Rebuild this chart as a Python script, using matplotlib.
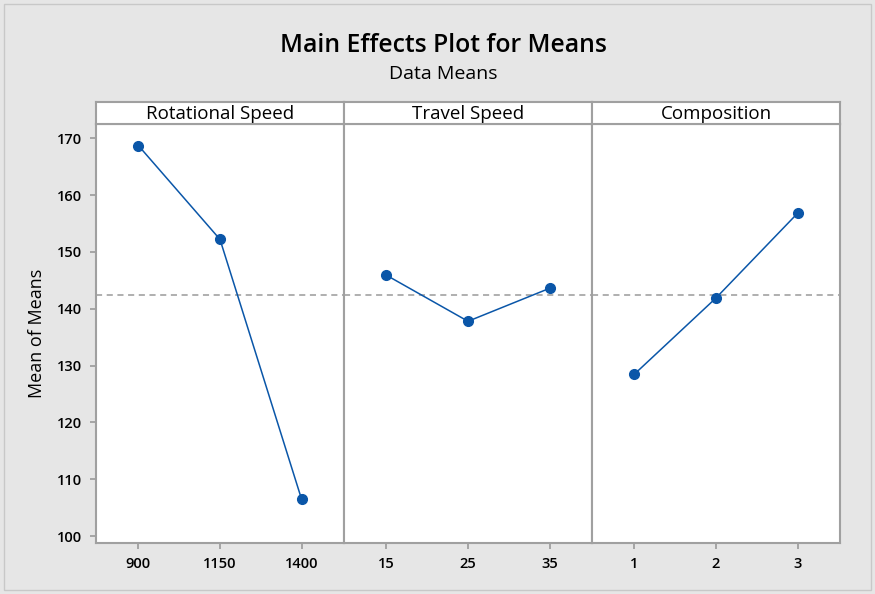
import matplotlib.pyplot as plt
from matplotlib.patches import Rectangle

# factors and level means
factors = ["Rotational Speed", "Travel Speed", "Composition"]
levels = [["900", "1150", "1400"], ["15", "25", "35"], ["1", "2", "3"]]
means = [[168.7, 152.2, 106.5], [145.9, 137.8, 143.6], [128.5, 141.9, 156.8]]
grand_mean = 142.45
yticks = [100, 110, 120, 130, 140, 150, 160, 170]

blue = "#0a56a8"
edge = "#a0a0a0"
bg = "#e6e6e6"

plt.rcParams["font.family"] = ["Open Sans", "DejaVu Sans"]

fig = plt.figure(figsize=(8.75, 5.94), dpi=100, facecolor=bg)
fig.patches.append(Rectangle((0.004, 0.006), 0.991, 0.988, transform=fig.transFigure,
                             fill=False, edgecolor="#c8c8c8", linewidth=1))

left, right = 96 / 875, 840 / 875
bottom, top, htop = 1 - 543 / 594, 1 - 124 / 594, 1 - 102 / 594
w = (right - left) / 3

for i, name in enumerate(factors):
    ax = fig.add_axes([left + i * w, bottom, w, top - bottom], facecolor="white")
    xs = [1, 2, 3]
    ax.axhline(grand_mean, color="#9a9a9a", linestyle=(0, (4, 3)), linewidth=1.1, zorder=1)
    ax.plot(xs, means[i], color=blue, linewidth=1.1, marker="o", markersize=7, zorder=3)
    ax.set_xlim(0.48, 3.52)
    ax.set_ylim(98.8, 172.5)
    ax.set_xticks(xs)
    ax.set_xticklabels(levels[i], fontsize=10.5, fontweight="semibold")
    ax.set_yticks(yticks)
    for s in ax.spines.values():
        s.set_color(edge)
        s.set_linewidth(1.5)
    ax.tick_params(axis="both", color=edge, length=4, width=1.3, pad=6)
    if i == 0:
        ax.set_yticklabels([str(t) for t in yticks], fontsize=10.5, fontweight="semibold")
        ax.set_ylabel("Mean of Means", fontsize=13, labelpad=8)
    else:
        ax.tick_params(axis="y", left=False, labelleft=False)

    # header strip
    hx = fig.add_axes([left + i * w, top, w, htop - top], facecolor="white")
    hx.set_xticks([])
    hx.set_yticks([])
    for s in hx.spines.values():
        s.set_color(edge)
        s.set_linewidth(1.5)
    hx.text(0.5, 0.45, name, ha="center", va="center", fontsize=13.5,
            transform=hx.transAxes)

cx = 443.5 / 875
fig.text(cx, 1 - 45 / 594, "Main Effects Plot for Means", ha="center", va="center",
         fontsize=17.8, fontweight="semibold")
fig.text(cx, 1 - 74 / 594, "Data Means", ha="center", va="center", fontsize=14)

fig.savefig("out.png", dpi=100, facecolor=bg)
